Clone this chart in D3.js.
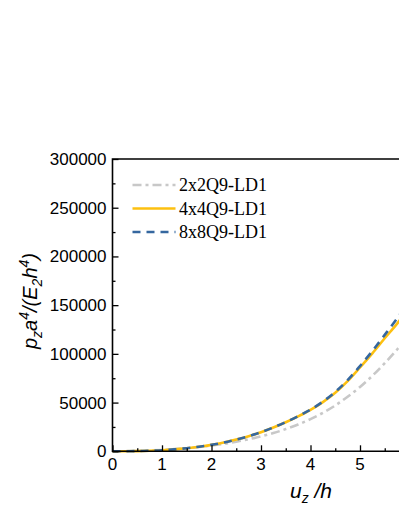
<!DOCTYPE html>
<html>
<head>
<meta charset="utf-8">
<script src="https://cdn.jsdelivr.net/npm/d3@7"></script>
<style>
  body { margin: 0; background: #fff; }
  svg { display: block; }
</style>
</head>
<body>
<div id="chart"></div>
<script>
  'use strict';

  // displacement u_z/h
  const uz = [0, 0.25, 0.5, 0.75, 1, 1.25, 1.5, 1.75, 2, 2.25, 2.5, 2.75, 3,
    3.25, 3.5, 3.75, 4, 4.25, 4.5, 4.75, 5, 5.25, 5.5, 5.75, 6];
  // load p_z a^4/(E_2 h^4)
  const mesh2 = [0, 80, 350, 800, 1400, 2200, 3200, 4400, 5900, 7700, 9900, 12400, 15300,
    18700, 22800, 27500, 33000, 39500, 47000, 56000, 66000, 77500, 90500, 104500, 120000];
  const mesh4 = [0, 40, 200, 550, 1100, 2000, 3200, 4700, 6600, 9000, 12000, 15500, 19600,
    24400, 29800, 35800, 42500, 50500, 60000, 72000, 86000, 100500, 116000, 131000, 148000];
  const mesh8 = [0, 40, 200, 550, 1100, 2000, 3200, 4700, 6600, 9000, 12000, 15500, 19600,
    24500, 30000, 36000, 42800, 51000, 61000, 73000, 87500, 103000, 119500, 136500, 155000];

  const seriesNames = ['2x2Q9-LD1', '4x4Q9-LD1', '8x8Q9-LD1'];
  const xTicks = [0, 1, 2, 3, 4, 5, 6];
  const yTicks = [0, 50000, 100000, 150000, 200000, 250000, 300000];

  const W = 399, H = 516;
  const padLeft = 112.5, padTop = 159, axisBottom = 451.3;

  const x = d3.scaleLinear().domain([0, 6]).range([padLeft, padLeft + 6 * 49.5]);
  const y = d3.scaleLinear().domain([0, 300000]).range([axisBottom, padTop]);

  const svg = d3.select('#chart').append('svg')
    .attr('width', W)
    .attr('height', H);

  const styles = [
    { color: '#c8c8c8', dash: '9,4,3,4' },
    { color: '#fdc010', dash: null },
    { color: '#35679f', dash: '8,6' }
  ];

  const allSeries = [mesh2, mesh4, mesh8];

  // curves
  const line = d3.line()
    .x((d, i) => x(uz[i]))
    .y(d => y(d))
    .curve(d3.curveMonotoneX);

  svg.append('g').selectAll('path')
    .data(allSeries)
    .enter()
    .append('path')
    .attr('d', d => line(d))
    .attr('fill', 'none')
    .attr('stroke', (d, i) => styles[i].color)
    .attr('stroke-width', 2.6)
    .attr('stroke-dasharray', (d, i) => styles[i].dash);

  // axes, ticks pointing inward
  const xAxis = d3.axisTop(x).tickValues(xTicks).tickSize(6).tickFormat('');
  const xMinor = d3.axisTop(x).tickValues(d3.range(0.5, 6, 1)).tickSize(3).tickFormat('');
  const yAxis = d3.axisRight(y).tickValues(yTicks).tickSize(6).tickFormat('');
  const yMinor = d3.axisRight(y).tickValues(d3.range(25000, 300000, 50000)).tickSize(3).tickFormat('');

  [
    svg.append('g').attr('transform', `translate(0,${axisBottom})`).call(xAxis),
    svg.append('g').attr('transform', `translate(0,${axisBottom})`).call(xMinor),
    svg.append('g').attr('transform', `translate(${padLeft},0)`).call(yAxis),
    svg.append('g').attr('transform', `translate(${padLeft},0)`).call(yMinor)
  ].forEach(g => {
    g.select('.domain').remove();
    g.selectAll('line').attr('stroke', '#000').attr('stroke-width', 1.3);
  });

  // frame
  svg.append('path')
    .attr('d', `M${x(6)},${padTop}H${padLeft}V${axisBottom}H${x(6)}`)
    .attr('fill', 'none')
    .attr('stroke', '#000')
    .attr('stroke-width', 1.6);

  // tick labels
  svg.append('g').selectAll('text')
    .data(xTicks.slice(0, 6))
    .enter()
    .append('text')
    .attr('x', d => x(d))
    .attr('y', axisBottom + 19)
    .attr('text-anchor', 'middle')
    .attr('font-family', 'Liberation Sans, Arial, sans-serif')
    .attr('font-size', '17px')
    .text(d => d);

  svg.append('g').selectAll('text')
    .data(yTicks)
    .enter()
    .append('text')
    .attr('x', padLeft - 6)
    .attr('y', d => y(d) + 6)
    .attr('text-anchor', 'end')
    .attr('font-family', 'Liberation Sans, Arial, sans-serif')
    .attr('font-size', '17px')
    .text(d => d);

  // axis titles
  const xt = svg.append('text')
    .attr('x', 311)
    .attr('y', 498)
    .attr('text-anchor', 'middle')
    .attr('font-family', 'Liberation Sans, Arial, sans-serif')
    .attr('font-style', 'italic')
    .attr('font-size', '21px');
  xt.append('tspan').text('u');
  xt.append('tspan').attr('font-size', '14px').attr('dy', 5).text('z');
  xt.append('tspan').attr('dy', -5).text(' /h');

  const yt = svg.append('text')
    .attr('transform', 'translate(37,301) rotate(-90)')
    .attr('text-anchor', 'middle')
    .attr('font-family', 'Liberation Sans, Arial, sans-serif')
    .attr('font-style', 'italic')
    .attr('font-size', '20px');
  yt.append('tspan').text('p');
  yt.append('tspan').attr('font-size', '14px').attr('dy', 5).text('z');
  yt.append('tspan').attr('dy', -5).text('a');
  yt.append('tspan').attr('font-size', '14px').attr('dy', -8).text('4');
  yt.append('tspan').attr('dy', 8).text('/(E');
  yt.append('tspan').attr('font-size', '14px').attr('dy', 5).text('2');
  yt.append('tspan').attr('dy', -5).text('h');
  yt.append('tspan').attr('font-size', '14px').attr('dy', -8).text('4');
  yt.append('tspan').attr('dy', 8).text(')');

  // legend
  const legend = svg.append('g').selectAll('g')
    .data(seriesNames)
    .enter()
    .append('g')
    .attr('transform', (d, i) => `translate(132.5,${185 + i * 23.5})`);

  legend.append('line')
    .attr('x1', 0).attr('x2', 43)
    .attr('y1', 0).attr('y2', 0)
    .attr('stroke', (d, i) => styles[i].color)
    .attr('stroke-width', 2.6)
    .attr('stroke-dasharray', (d, i) => styles[i].dash);

  legend.append('text')
    .attr('x', 46.5)
    .attr('y', 6)
    .attr('font-family', 'Liberation Serif, Times New Roman, serif')
    .attr('font-size', '18px')
    .text(d => d);
</script>
</body>
</html>
